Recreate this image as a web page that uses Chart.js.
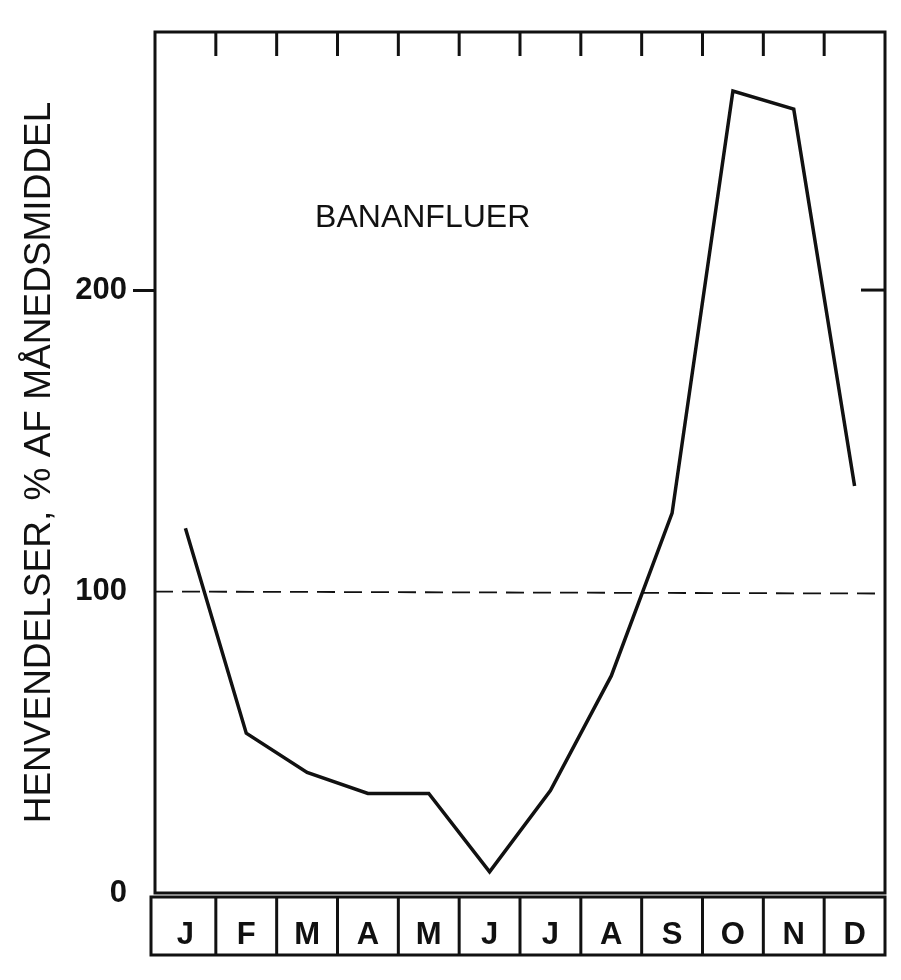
<!DOCTYPE html>
<html>
<head>
<meta charset="utf-8">
<script src="https://cdn.jsdelivr.net/npm/chart.js@4/dist/chart.umd.min.js"></script>
<style>
  html, body { margin: 0; padding: 0; background: #fff; }
  #wrap { width: 901px; height: 980px; }
</style>
</head>
<body>
<div id="wrap"><canvas id="chart"></canvas></div>
<script>
// Monthly data
const months = ['J', 'F', 'M', 'A', 'M', 'J', 'J', 'A', 'S', 'O', 'N', 'D'];
const visits = [121, 53, 40, 33, 33, 7, 34, 72, 126, 266, 260, 135];
const meanLevel = [100];
const yTicks = [0, 100, 200];
const yMax = 285.6;

const font = "'Liberation Sans', Arial, sans-serif";

// frame, month boxes, top tick marks, mean line and the label
const framePlugin = {
  id: 'frame',
  afterDraw(chart) {
    const { ctx, chartArea: a, scales } = chart;
    const x = scales.x;
    const step = (a.right - a.left) / months.length;
    ctx.save();
    ctx.strokeStyle = '#111';
    ctx.lineWidth = 3;
    ctx.strokeRect(a.left, a.top, a.right - a.left, a.bottom - a.top);

    // month boxes under the plot
    const boxTop = a.bottom + 4, boxBottom = a.bottom + 62;
    ctx.strokeRect(a.left - 4, boxTop, a.right - a.left + 4, boxBottom - boxTop);
    for (let i = 1; i < months.length; i++) {
      const bx = a.left + step * i;
      ctx.beginPath();
      ctx.moveTo(bx, boxTop);
      ctx.lineTo(bx, boxBottom);
      ctx.stroke();
      ctx.beginPath();
      ctx.moveTo(bx, a.top);
      ctx.lineTo(bx, a.top + 24);
      ctx.stroke();
    }

    const y200 = scales.y.getPixelForValue(200);
    ctx.beginPath();
    ctx.moveTo(a.right - 24, y200);
    ctx.lineTo(a.right, y200);
    ctx.stroke();

    // dashed mean line across the whole plot
    const ym = scales.y.getPixelForValue(meanLevel[0]);
    ctx.lineWidth = 1.8;
    ctx.setLineDash([18, 9]);
    ctx.beginPath();
    ctx.moveTo(a.left, ym);
    ctx.lineTo(a.right, ym + 2);
    ctx.stroke();
    ctx.setLineDash([]);

    ctx.fillStyle = '#111';
    ctx.font = `32px ${font}`;
    ctx.textAlign = 'center';
    ctx.textBaseline = 'middle';
    ctx.fillText('BANANFLUER', x.getPixelForValue(3.9), scales.y.getPixelForValue(224));
    ctx.restore();
  }
};

new Chart(document.getElementById('chart'), {
  type: 'line',
  data: {
    labels: months,
    datasets: [
      {
        label: 'Henvendelser',
        data: visits,
        borderColor: '#111',
        borderWidth: 3.5,
        pointRadius: 0,
        tension: 0,
      },
    ],
  },
  options: {
    responsive: true,
    maintainAspectRatio: false,
    animation: false,
    layout: { padding: { top: 32, right: 16, left: 18, bottom: 0 } },
    plugins: { legend: { display: false }, tooltip: { enabled: false } },
    scales: {
      x: {
        offset: true,
        afterFit: (axis) => { axis.height = 87; },
        grid: { display: false },
        border: { display: false },
        ticks: {
          color: '#111',
          padding: 16,
          font: { family: font, size: 31, weight: 'bold' },
        },
      },
      y: {
        min: 0,
        max: yMax,
        afterFit: (axis) => { axis.width = 137; },
        afterBuildTicks: (axis) => {
          axis.ticks = yTicks.map((v) => ({ value: v }));
        },
        border: { display: false },
        grid: {
          drawOnChartArea: false,
          tickLength: 22,
          tickWidth: 3,
          tickColor: (c) => (c.tick && c.tick.value === 200 ? '#111' : 'rgba(0,0,0,0)'),
        },
        ticks: {
          color: '#111',
          padding: 6,
          font: { family: font, size: 31, weight: 'bold' },
        },
        title: {
          display: true,
          text: 'HENVENDELSER, % AF MÅNEDSMIDDEL',
          color: '#111',
          padding: { top: 0, bottom: 0 },
          font: { family: font, size: 37 },
        },
      },
    },
  },
  plugins: [framePlugin],
});
</script>
</body>
</html>
